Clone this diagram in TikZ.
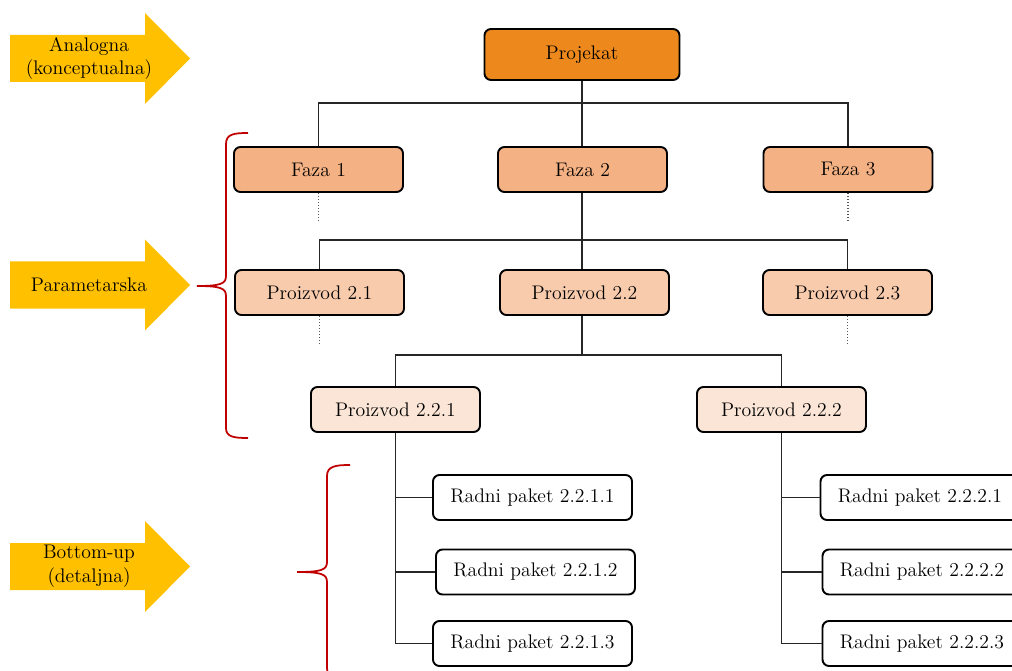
\documentclass[tikz,border=0pt]{standalone}
\usetikzlibrary{calc}
\definecolor{projorange}{RGB}{237,137,28}
\definecolor{fazaorange}{RGB}{244,177,131}
\definecolor{proizorange}{RGB}{248,203,173}
\definecolor{suborange}{RGB}{251,229,214}
\definecolor{arrowgold}{RGB}{255,192,0}
\definecolor{bracered}{RGB}{192,0,0}
\tikzset{
  wbs/.style={draw=black,line width=1.1pt,rounded corners=1.3mm,minimum width=3.38cm,minimum height=0.9cm,align=center,font=\fontsize{11.2}{13.5}\selectfont},
  projbox/.style={wbs,fill=projorange,minimum width=3.9cm,minimum height=1.02cm},
  fazabox/.style={wbs,fill=fazaorange},
  proizbox/.style={wbs,fill=proizorange},
  subbox/.style={wbs,fill=suborange},
  wpbox/.style={wbs,fill=white,minimum width=3.98cm},
  link/.style={draw=black!85,line width=0.7pt},
  stub/.style={draw=black!65,line width=0.7pt,densely dotted},
  lvltext/.style={align=center,inner sep=0pt,font=\fontsize{11.2}{13.5}\selectfont},
  redbrace/.style={draw=bracered,line width=1pt}
}

\begin{document}
\begin{tikzpicture}[x=0.2mm,y=-0.2mm]
  \useasboundingbox (0,0) rectangle (1012,671);
  \clip (0,0) rectangle (1012,671);

  % level arrows on the left
  \foreach \yc/\nm/\txt in {58.5/aAnalog/{Analogna\\(konceptualna)},285/aParam/Parametarska,566.5/aBottom/{Bottom-up\\(detaljna)}}{
    \fill[arrowgold] (10,\yc-23.5) -- (145,\yc-23.5) -- (145,\yc-45.5) -- (190,\yc)
      -- (145,\yc+45.5) -- (145,\yc+23.5) -- (10,\yc+23.5) -- cycle;
    \node[lvltext] (\nm) at (89,\yc) {\txt};
  }

  % braces
  \draw[redbrace] (248,133) .. controls (234,133) and (226,134) .. (226,144) -- (226,276)
    .. controls (226,284) and (220,286) .. (197,286)
    .. controls (220,286) and (226,288) .. (226,296) -- (226,428)
    .. controls (226,437) and (234,438) .. (248,438);
  \draw[redbrace] (350,465) .. controls (336,465) and (327,466) .. (327,476) -- (327,562)
    .. controls (327,570) and (321,572) .. (297,572)
    .. controls (321,572) and (327,574) .. (327,582) -- (327,668)
    .. controls (327,678) and (336,679) .. (350,679);

  % boxes
  \node[projbox] (proj) at (582,54.5) {Projekat};
  \node[fazabox] (faza1) at (318.5,169.5) {Faza 1};
  \node[fazabox] (faza2) at (582.5,169.5) {Faza 2};
  \node[fazabox] (faza3) at (848,169.5) {Faza 3};
  \node[proizbox] (p21) at (319.5,292.5) {Proizvod 2.1};
  \node[proizbox] (p22) at (584.5,292.5) {Proizvod 2.2};
  \node[proizbox] (p23) at (847.5,292.5) {Proizvod 2.3};
  \node[subbox] (p221) at (395.5,409.5) {Proizvod 2.2.1};
  \node[subbox] (p222) at (781.5,409.5) {Proizvod 2.2.2};
  \node[wpbox] (rp2211) at (532.5,497.5) {Radni paket 2.2.1.1};
  \node[wpbox] (rp2212) at (535.5,572) {Radni paket 2.2.1.2};
  \node[wpbox] (rp2213) at (532.5,643.5) {Radni paket 2.2.1.3};
  \node[wpbox] (rp2221) at (920,497.5) {Radni paket 2.2.2.1};
  \node[wpbox] (rp2222) at (922,572) {Radni paket 2.2.2.2};
  \node[wpbox] (rp2223) at (922,643.5) {Radni paket 2.2.2.3};

  % connectors
  \draw[link] (proj.south) -- (proj.south |- faza2.north);
  \draw[link] (faza1.north) -- ++(0,-43) -| (faza3.north);
  \draw[link] (proj.south |- faza2.south) -- (proj.south |- p22.north);
  \draw[link] (p21.north) -- ++(0,-29) -| (p23.north);
  \draw[link] (proj.south |- p22.south) -- ++(0,39) coordinate (bus3);
  \draw[link] (p221.north) |- (bus3) -| (p222.north);
  \draw[link] (p221.south) |- (rp2213.west);
  \draw[link] (p221.south |- rp2211.west) -- (rp2211.west);
  \draw[link] (p221.south |- rp2212.west) -- (rp2212.west);
  \draw[link] (p222.south) |- (rp2223.west);
  \draw[link] (p222.south |- rp2221.west) -- (rp2221.west);
  \draw[link] (p222.south |- rp2222.west) -- (rp2222.west);

  % dotted continuations
  \foreach \n in {faza1,faza3,p21,p23}
    \draw[stub] (\n.south) -- ++(0,28);
\end{tikzpicture}
\end{document}
